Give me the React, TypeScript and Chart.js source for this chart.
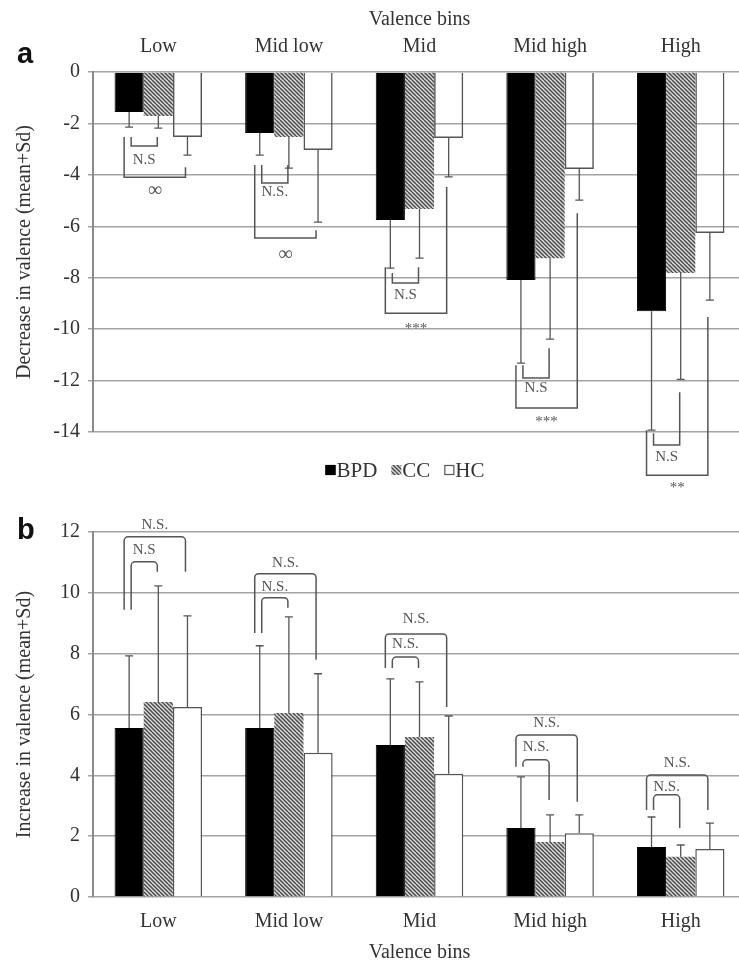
import React, { useEffect, useRef } from 'react';
import { Chart, registerables } from 'chart.js';

Chart.register(...registerables);

const FONT = "'Liberation Serif', 'Times New Roman', serif";

const categories = ['Low', 'Mid low', 'Mid', 'Mid high', 'High'];
const seriesLabels = ['BPD', 'CC', 'HC'];
const axisTitleX = 'Valence bins';

// Panel a: decrease in valence (mean) and Sd
const decBPD = [-1.56, -2.37, -5.76, -8.09, -9.3];
const decCC = [-1.71, -2.53, -5.33, -7.24, -7.82];
const decHC = [-2.53, -3.03, -2.57, -3.77, -6.26];
const decBPDsd = [0.58, 0.86, 1.87, 3.23, 4.63];
const decCCsd = [0.47, 1.21, 1.91, 3.15, 4.13];
const decHCsd = [0.7, 2.81, 1.51, 1.21, 2.61];
const decTicks = { min: -14, max: 0, step: 2 };
const decTitle = 'Decrease in valence (mean+Sd)';

// Panel b: increase in valence (mean) and Sd
const incBPD = [5.56, 5.56, 5.0, 2.27, 1.64];
const incCC = [6.41, 6.05, 5.26, 1.81, 1.32];
const incHC = [6.25, 4.74, 4.05, 2.1, 1.58];
const incBPDsd = [2.37, 2.7, 2.17, 1.68, 0.99];
const incCCsd = [3.82, 3.16, 1.81, 0.89, 0.39];
const incHCsd = [2.99, 2.6, 1.9, 0.6, 0.85];
const incTicks = { min: 0, max: 12, step: 2 };
const incTitle = 'Increase in valence (mean+Sd)';

// Significance brackets: category, from series, to series, y at start, y at end, y of bar, y of text, text
type Bracket = { cat: number; from: number; to: number; yFrom: number; yTo: number; yBar: number; yText: number; text: string };
const decBrackets: Bracket[] = [
  { cat: 0, from: 0, to: 1, yFrom: -2.53, yTo: -2.53, yBar: -2.88, yText: -3.42, text: 'N.S' },
  { cat: 0, from: 0, to: 2, yFrom: -2.53, yTo: -3.7, yBar: -4.09, yText: -4.6, text: '∞' },
  { cat: 1, from: 0, to: 1, yFrom: -3.62, yTo: -3.62, yBar: -4.32, yText: -4.67, text: 'N.S.' },
  { cat: 1, from: 0, to: 2, yFrom: -3.62, yTo: -6.15, yBar: -6.46, yText: -7.12, text: '∞' },
  { cat: 2, from: 0, to: 1, yFrom: -7.82, yTo: -7.59, yBar: -8.21, yText: -8.68, text: 'N.S' },
  { cat: 2, from: 0, to: 2, yFrom: -7.59, yTo: -4.47, yBar: -9.38, yText: -10.0, text: '***' },
  { cat: 3, from: 0, to: 1, yFrom: -11.4, yTo: -10.74, yBar: -11.9, yText: -12.3, text: 'N.S' },
  { cat: 3, from: 0, to: 2, yFrom: -11.4, yTo: -5.49, yBar: -13.07, yText: -13.62, text: '***' },
  { cat: 4, from: 0, to: 1, yFrom: -14.05, yTo: -12.45, yBar: -14.51, yText: -14.98, text: 'N.S' },
  { cat: 4, from: 0, to: 2, yFrom: -13.93, yTo: -9.53, yBar: -15.68, yText: -16.19, text: '**' },
];
const incBrackets: Bracket[] = [
  { cat: 0, from: 0, to: 2, yFrom: 9.44, yTo: 10.69, yBar: 11.84, yText: 12.24, text: 'N.S.' },
  { cat: 0, from: 0, to: 1, yFrom: 9.44, yTo: 10.69, yBar: 11.02, yText: 11.41, text: 'N.S' },
  { cat: 1, from: 0, to: 2, yFrom: 8.68, yTo: 7.8, yBar: 10.63, yText: 10.99, text: 'N.S.' },
  { cat: 1, from: 0, to: 1, yFrom: 8.68, yTo: 9.51, yBar: 9.84, yText: 10.2, text: 'N.S.' },
  { cat: 2, from: 0, to: 2, yFrom: 7.53, yTo: 6.25, yBar: 8.65, yText: 9.14, text: 'N.S.' },
  { cat: 2, from: 0, to: 1, yFrom: 7.53, yTo: 7.53, yBar: 7.89, yText: 8.32, text: 'N.S.' },
  { cat: 3, from: 0, to: 2, yFrom: 4.28, yTo: 3.13, yBar: 5.33, yText: 5.72, text: 'N.S.' },
  { cat: 3, from: 0, to: 1, yFrom: 4.28, yTo: 3.19, yBar: 4.51, yText: 4.93, text: 'N.S.' },
  { cat: 4, from: 0, to: 2, yFrom: 2.86, yTo: 2.86, yBar: 4.01, yText: 4.41, text: 'N.S.' },
  { cat: 4, from: 0, to: 1, yFrom: 2.86, yTo: 2.27, yBar: 3.36, yText: 3.62, text: 'N.S.' },
];

function makeHatch(): CanvasPattern | string {
  const c = document.createElement('canvas');
  c.width = 8;
  c.height = 8;
  const g = c.getContext('2d');
  if (!g) return '#999';
  g.fillStyle = '#d6d6d6';
  g.fillRect(0, 0, 8, 8);
  g.strokeStyle = '#4a4a4a';
  g.lineWidth = 1.4;
  for (const o of [-8, -4, 0, 4, 8]) {
    g.beginPath();
    g.moveTo(o, 0);
    g.lineTo(o + 8, 8);
    g.stroke();
  }
  return g.createPattern(c, 'repeat') || '#999';
}

type OverlayCfg = {
  sds: number[][];
  dir: number;
  brackets: Bracket[];
  letter: string;
  letterY: number;
  legendY: number | null;
  radius: number;
};

function makeOverlay(cfg: OverlayCfg) {
  return {
    id: 'overlay',
    afterDatasetsDraw(chart: any) {
      const ctx: CanvasRenderingContext2D = chart.ctx;
      const ys = chart.scales.y;
      ctx.save();
      // error bars
      ctx.strokeStyle = '#555';
      ctx.lineWidth = 1.3;
      chart.data.datasets.forEach((ds: any, di: number) => {
        const meta = chart.getDatasetMeta(di);
        meta.data.forEach((el: any, i: number) => {
          const end = ds.data[i] + cfg.dir * cfg.sds[di][i];
          const y1 = ys.getPixelForValue(end);
          ctx.beginPath();
          ctx.moveTo(el.x, el.y);
          ctx.lineTo(el.x, y1);
          ctx.moveTo(el.x - 4, y1);
          ctx.lineTo(el.x + 4, y1);
          ctx.stroke();
        });
      });
      // brackets
      ctx.strokeStyle = '#555';
      ctx.lineWidth = 1.5;
      ctx.fillStyle = '#555';
      ctx.font = `15px ${FONT}`;
      ctx.textAlign = 'center';
      ctx.textBaseline = 'middle';
      for (const b of cfg.brackets) {
        const e0 = chart.getDatasetMeta(b.from).data[b.cat];
        const e1 = chart.getDatasetMeta(b.to).data[b.cat];
        const outer = b.to === 2;
        const xl = e0.x + (outer ? -5 : 2);
        const xr = e1.x + (outer ? -2 : -1);
        const ya = ys.getPixelForValue(b.yFrom);
        const yb = ys.getPixelForValue(b.yBar);
        const yc = ys.getPixelForValue(b.yTo);
        ctx.beginPath();
        ctx.moveTo(xl, ya);
        if (cfg.radius > 0) {
          ctx.arcTo(xl, yb, xr, yb, cfg.radius);
          ctx.arcTo(xr, yb, xr, yc, cfg.radius);
        } else {
          ctx.lineTo(xl, yb);
          ctx.lineTo(xr, yb);
        }
        ctx.lineTo(xr, yc);
        ctx.stroke();
        const fs = b.text === '∞' ? 20 : 15;
        ctx.font = `${fs}px ${FONT}`;
        ctx.fillText(b.text, (xl + xr) / 2, ys.getPixelForValue(b.yText));
      }
      ctx.restore();
    },
    afterDraw(chart: any) {
      const ctx: CanvasRenderingContext2D = chart.ctx;
      ctx.save();
      // panel letter
      ctx.fillStyle = '#111';
      ctx.font = "bold 29px 'Liberation Sans', Arial, sans-serif";
      ctx.textAlign = 'left';
      ctx.textBaseline = 'alphabetic';
      ctx.fillText(cfg.letter, 17, cfg.letterY);
      // legend
      if (cfg.legendY !== null) {
        const ly = cfg.legendY;
        ctx.font = `21px ${FONT}`;
        ctx.textBaseline = 'middle';
        const box = 10;
        const gap = 1;
        const spacing = 14;
        const items = chart.data.datasets.map((ds: any) => ({ label: ds.label, w: box + gap + ctx.measureText(ds.label).width }));
        const total = items.reduce((s: number, it: any) => s + it.w, 0) + spacing * (items.length - 1);
        let x = 405 - total / 2;
        chart.data.datasets.forEach((ds: any, i: number) => {
          ctx.fillStyle = ds.legendFill || ds.backgroundColor;
          ctx.fillRect(x, ly - box / 2, box, box);
          if (ds.borderWidth) {
            ctx.strokeStyle = ds.borderColor;
            ctx.lineWidth = 1.2;
            ctx.strokeRect(x + 0.5, ly - box / 2 + 0.5, box - 1, box - 1);
          }
          ctx.fillStyle = '#333';
          ctx.fillText(ds.label, x + box + gap, ly + 1);
          x += items[i].w + spacing;
        });
      }
      ctx.restore();
    },
  };
}

function buildChart(
  canvas: HTMLCanvasElement,
  values: number[][],
  sds: number[][],
  ticks: { min: number; max: number; step: number },
  yTitle: string,
  brackets: Bracket[],
  top: boolean,
) {
  const hatch = makeHatch();
  const datasets = [
    { label: seriesLabels[0], data: values[0], backgroundColor: '#000', borderColor: '#000', borderWidth: 1 },
    { label: seriesLabels[1], data: values[1], backgroundColor: hatch, borderColor: '#888', borderWidth: 0 },
    {
      label: seriesLabels[2],
      data: values[2],
      backgroundColor: top ? 'rgba(255,255,255,0)' : '#fff',
      legendFill: '#fff',
      borderColor: '#555',
      borderWidth: 1.5,
    },
  ];
  const overlay = makeOverlay({
    sds,
    dir: top ? -1 : 1,
    brackets,
    letter: top ? 'a' : 'b',
    letterY: top ? 63 : 39,
    legendY: top ? 470 : null,
    radius: top ? 0 : 4,
  });
  return new Chart(canvas, {
    type: 'bar',
    data: { labels: categories, datasets: datasets as any },
    options: {
      responsive: false,
      animation: false,
      maintainAspectRatio: false,
      layout: { padding: top ? { top: 0, bottom: 68, left: 0, right: 0 } : { top: 32, bottom: 0, left: 0, right: 0 } },
      datasets: { bar: { categoryPercentage: 0.67, barPercentage: 1.0 } },
      plugins: { legend: { display: false }, tooltip: { enabled: false } },
      scales: {
        x: {
          position: top ? 'top' : 'bottom',
          grid: { display: false, drawTicks: false },
          border: { display: false },
          ticks: { font: { family: FONT, size: 20 }, color: '#333', padding: 13 },
          title: { display: true, text: axisTitleX, font: { family: FONT, size: 20 }, color: '#333', padding: { top: 8, bottom: 0 } },
          afterFit: (s: any) => {
            s.height = 72;
            if (!top) s.height = 68;
          },
        },
        y: {
          min: ticks.min,
          max: ticks.max,
          ticks: { stepSize: ticks.step, font: { family: FONT, size: 20 }, color: '#333', padding: 8 },
          grid: { color: '#a3a3a3', lineWidth: 1.5, tickLength: 5 },
          border: { color: '#8a8a8a', width: 2 },
          title: { display: true, text: yTitle, font: { family: FONT, size: 20 }, color: '#333', padding: { top: 13, bottom: 0 } },
          afterFit: (s: any) => {
            s.width = 93;
          },
        },
      } as any,
    },
    plugins: [overlay as any],
  });
}

export default function App() {
  const refA = useRef<HTMLCanvasElement>(null);
  const refB = useRef<HTMLCanvasElement>(null);

  useEffect(() => {
    Chart.defaults.font.family = FONT;
    const a = buildChart(refA.current!, [decBPD, decCC, decHC], [decBPDsd, decCCsd, decHCsd], decTicks, decTitle, decBrackets, true);
    const b = buildChart(refB.current!, [incBPD, incCC, incHC], [incBPDsd, incCCsd, incHCsd], incTicks, incTitle, incBrackets, false);
    return () => {
      a.destroy();
      b.destroy();
    };
  }, []);

  return (
    <div style={{ position: 'absolute', left: 0, top: 0, width: 739, height: 965, overflow: 'hidden', background: '#fff' }}>
      <canvas ref={refA} width={746} height={500} style={{ position: 'absolute', left: 0, top: 0, width: 746, height: 500 }} />
      <canvas ref={refB} width={746} height={465} style={{ position: 'absolute', left: 0, top: 500, width: 746, height: 465 }} />
    </div>
  );
}
